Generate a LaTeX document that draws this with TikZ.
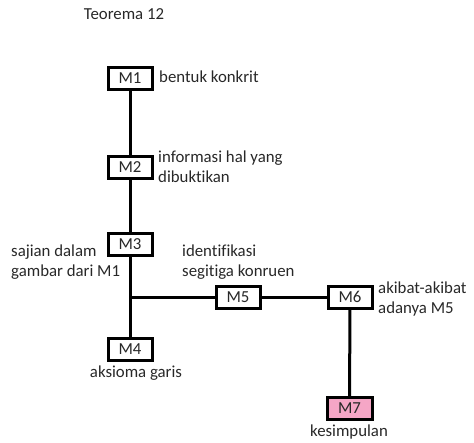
\documentclass[tikz,border=0pt]{standalone}
\usepackage{fontspec}
\setmainfont{Carlito}[Ligatures=NoCommon]
\definecolor{pinkfill}{RGB}{245,166,198}
\definecolor{txt}{RGB}{40,40,40}
\begin{document}
\begin{tikzpicture}[x=1pt,y=-1pt,
  every node/.style={font=\fontsize{16.8}{20}\selectfont, text=txt},
  mbox/.style={draw=black, line width=3pt, fill=white, minimum width=44pt, minimum height=22pt, inner sep=0pt},
  lbl/.style={inner sep=0pt, align=left, anchor=west},
  link/.style={line width=3pt, draw=black}]
\useasboundingbox (0,0) rectangle (474,442);

% title
\node[inner sep=0pt] (title) at (124,14) {Teorema 12};

% main chain
\node[mbox] (m1) at (130,78.5) {M1};
\node[mbox] (m2) at (130,167) {M2};
\node[mbox] (m3) at (130,244.5) {M3};
\node[mbox] (m4) at (130,349) {M4};
\coordinate (j) at (130,297);
\node[mbox] (m5) at (238,297) {M5};
\node[mbox] (m6) at (350,297) {M6};
\node[mbox, fill=pinkfill, minimum width=45pt] (m7) at (349.5,408.5) {M7};

% connectors
\draw[link] (m1) -- (m2);
\draw[link] (m2) -- (m3);
\draw[link] (m3) -- (m4);
\draw[link] (j) -- (m5);
\draw[link] (m5) -- (m6);
\draw[link] (m6) -- (m7);

% descriptions
\node[lbl] (l1) at (159,77) {bentuk konkrit};
\node[lbl] (l2) at (158,167) {informasi hal yang\\dibuktikan};
\node[lbl] (l3) at (11,262) {sajian dalam\\gambar dari M1};
\node[lbl] (l5) at (182,262) {identifikasi\\segitiga konruen};
\node[lbl] (l6) at (378,299) {akibat-akibat\\adanya M5};
\node[inner sep=0pt] (l4) at (136,373) {aksioma garis};
\node[inner sep=0pt] (l7) at (349,432) {kesimpulan};
\end{tikzpicture}
\end{document}
